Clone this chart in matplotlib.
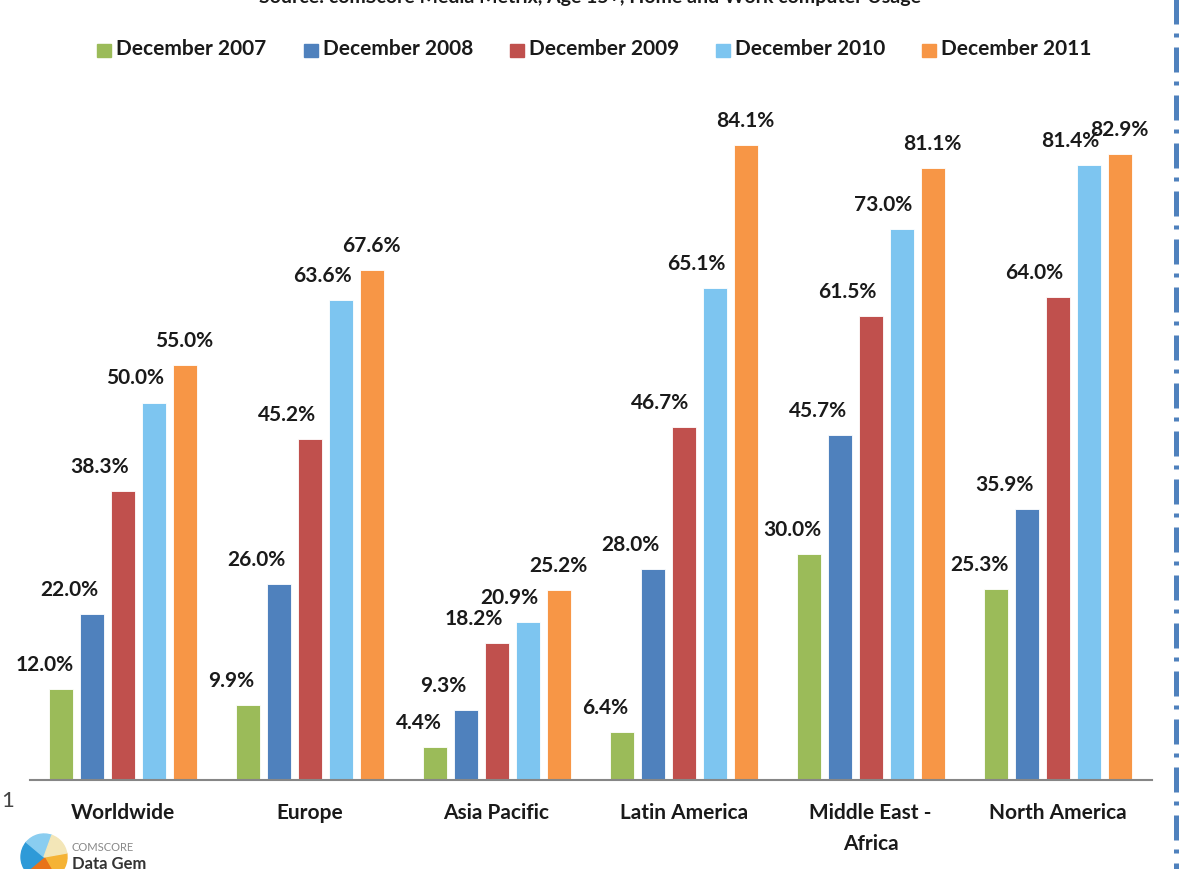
import matplotlib
matplotlib.use("Agg")
import matplotlib.pyplot as plt
import matplotlib.patches as mpatches
import numpy as np

categories = ["Worldwide", "Europe", "Asia Pacific", "Latin America", "Middle East -\nAfrica", "North America"]
series_names = ["December 2007", "December 2008", "December 2009", "December 2010", "December 2011"]
dec2007 = [12.0, 9.9, 4.4, 6.4, 30.0, 25.3]
dec2008 = [22.0, 26.0, 9.3, 28.0, 45.7, 35.9]
dec2009 = [38.3, 45.2, 18.2, 46.7, 61.5, 64.0]
dec2010 = [50.0, 63.6, 20.9, 65.1, 73.0, 81.4]
dec2011 = [55.0, 67.6, 25.2, 84.1, 81.1, 82.9]
series = [dec2007, dec2008, dec2009, dec2010, dec2011]
colors = ["#9BBB59", "#4F81BD", "#C0504D", "#7DC5F0", "#F79646"]
# horizontal nudge of value labels per series (pixels)
label_dx = [-16, -22, -23, -18, 0]

W, H = 1204, 870
fig = plt.figure(figsize=(W / 100, H / 100), dpi=100)
FONT = "Lato"
TXT = "#1a1a1a"

# axes: x from 30 to 1152 px, baseline at 781 px, 7.55 px per %
ymax = 90
ax_left, ax_right = 30, 1152
base = 781
pxper = 7.55
top = base - ymax * pxper
ax = fig.add_axes([ax_left / W, (H - base) / H, (ax_right - ax_left) / W, (base - top) / H])
ax.set_xlim(0, len(categories))
ax.set_ylim(0, ymax)

cat_px = (ax_right - ax_left) / len(categories)
bw = 24 / cat_px
step = 31 / cat_px
x = np.arange(len(categories)) + 0.495
for j, (vals, c) in enumerate(zip(series, colors)):
    xs = x + (j - 2) * step
    ax.bar(xs, vals, width=bw, color=c, edgecolor="white", linewidth=0.6, zorder=2)
    for xi, v in zip(xs, vals):
        ax.text(xi + label_dx[j] / cat_px, v + 25 / pxper, f"{v:.1f}%", ha="center", va="center",
                fontsize=15, fontweight="bold", family=FONT, color=TXT)

for s in ["top", "right", "left"]:
    ax.spines[s].set_visible(False)
ax.spines["bottom"].set_color("#868686")
ax.spines["bottom"].set_linewidth(1.5)
ax.set_yticks([])
ax.set_xticks(x)
ax.set_xticklabels(categories, fontsize=15, fontweight="bold", family=FONT, color=TXT,
                   linespacing=1.65)
ax.tick_params(axis="x", length=0, pad=16)
for lab in ax.get_xticklabels():
    lab.set_va("top")

# legend
leg_x = [97, 304, 510, 716, 922]
for name, c, lx in zip(series_names, colors, leg_x):
    fig.patches.append(mpatches.Rectangle((lx / W, (H - 58) / H), 14 / W, 13 / H,
                                          transform=fig.transFigure, color=c, figure=fig))
    fig.text((lx + 19) / W, (H - 49) / H, name, fontsize=15, fontweight="bold",
             family=FONT, va="center", ha="left", color=TXT)

# cut-off source line at the very top
fig.text(590 / W, (H + 3) / H, "Source: comScore Media Metrix, Age 15+, Home and Work computer Usage",
         fontsize=14, fontweight="bold", family=FONT, ha="center", va="center", color=TXT)

# overlay axes in pixel coordinates
lax = fig.add_axes([0, 0, 1, 1], facecolor="none")
lax.set_xlim(0, W)
lax.set_ylim(H, 0)
lax.axis("off")
# right dash-dot border
lax.plot([1176, 1176], [0, H], color="#4F81BD", linewidth=3.6,
         linestyle=(0, (5.0, 1.8, 0.8, 2.0)), solid_capstyle="butt", dash_capstyle="butt")

# left artifact
fig.text(1 / W, (H - 801) / H, "1", fontsize=16, family=FONT, color="#444444", va="center")

# logo
wedge_cols = ["#F5B335", "#E8731A", "#2E9AD8", "#8ACDF0", "#F3E6B8"]
angles = [-10, 60, 140, 220, 290, 350]
for k in range(5):
    lax.add_patch(mpatches.Wedge((44, 858), 23, angles[k], angles[k + 1], color=wedge_cols[k]))
fig.text(72 / W, (H - 848) / H, "COMSCORE", fontsize=8, family=FONT, color="#888888", va="center")
fig.text(72 / W, (H - 864) / H, "Data Gem", fontsize=12, fontweight="bold", family=FONT,
         color="#333333", va="center")

fig.savefig("out.png", dpi=100)
